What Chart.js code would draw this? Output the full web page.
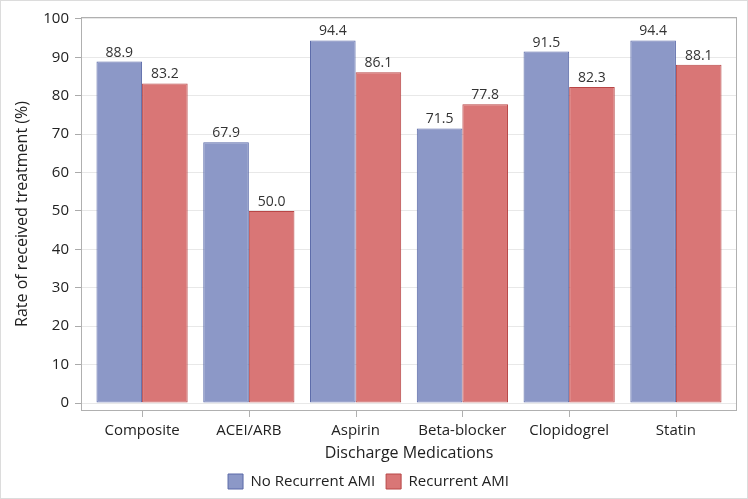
<!DOCTYPE html>
<html>
<head>
<meta charset="utf-8">
<script src="https://cdn.jsdelivr.net/npm/chart.js@4"></script>
<style>
  html, body { margin: 0; padding: 0; background: #fff; }
  #wrap { width: 748px; height: 499px; position: relative; }
</style>
</head>
<body>
<div id="wrap"><canvas id="medChart"></canvas></div>
<script>
const categories = ['Composite', 'ACEI/ARB', 'Aspirin', 'Beta-blocker', 'Clopidogrel', 'Statin'];
const noRecurrent = [88.9, 67.9, 94.4, 71.5, 91.5, 94.4];
const recurrent = [83.2, 50.0, 86.1, 77.8, 82.3, 88.1];
const yTicks = [0, 10, 20, 30, 40, 50, 60, 70, 80, 90, 100];

const FONT = "'Open Sans', sans-serif";
const TEXT = '#222';

/* page frame, plot frame and x tick marks */
const framePlugin = {
  id: 'frame',
  beforeDraw(chart) {
    const { ctx, width, height } = chart;
    ctx.save();
    ctx.fillStyle = '#fff';
    ctx.fillRect(0, 0, width, height);
    ctx.strokeStyle = '#dcdcdc';
    ctx.lineWidth = 1;
    ctx.strokeRect(0.5, 0.5, width - 1, height - 1);
    ctx.restore();
  },
  afterDraw(chart) {
    const { ctx, chartArea: a } = chart;
    const xScale = chart.scales.x;
    ctx.save();
    ctx.strokeStyle = '#b0b0b0';
    ctx.lineWidth = 1;
    ctx.strokeRect(Math.round(a.left) + 0.5, Math.round(a.top) + 0.5,
      Math.round(a.right - a.left) - 1, Math.round(a.bottom - a.top) - 1);
    // category tick marks under the plot frame
    ctx.beginPath();
    categories.forEach((c, i) => {
      const px = Math.round(xScale.getPixelForValue(i)) + 0.5;
      ctx.moveTo(px, Math.round(a.bottom));
      ctx.lineTo(px, Math.round(a.bottom) + 6);
    });
    ctx.stroke();
    ctx.restore();
  },
};

/* value labels above bars */
const valueLabels = {
  id: 'valueLabels',
  afterDatasetsDraw(chart) {
    const { ctx } = chart;
    ctx.save();
    ctx.font = `14px ${FONT}`;
    ctx.fillStyle = '#333';
    ctx.textAlign = 'center';
    ctx.textBaseline = 'alphabetic';
    chart.data.datasets.forEach((ds, di) => {
      chart.getDatasetMeta(di).data.forEach((bar, i) => {
        ctx.fillText(ds.data[i].y.toFixed(1), bar.x, bar.y - 5);
      });
    });
    ctx.restore();
  },
};

new Chart(document.getElementById('medChart'), {
  type: 'bar',
  data: {
    datasets: [
      {
        label: 'No Recurrent AMI',
        data: noRecurrent.map((v, i) => ({ x: i, y: v })),
        backgroundColor: '#8c98c7',
        borderColor: '#5a69a8',
        borderWidth: 1,
        borderSkipped: false,
      },
      {
        label: 'Recurrent AMI',
        data: recurrent.map((v, i) => ({ x: i, y: v })),
        backgroundColor: '#d97676',
        borderColor: '#b84646',
        borderWidth: 1,
        borderSkipped: false,
      },
    ],
  },
  options: {
    responsive: true,
    maintainAspectRatio: false,
    animation: false,
    categoryPercentage: 0.854,
    barPercentage: 1,
    layout: { padding: { top: 17, right: 11, left: 0, bottom: 0 } },
    plugins: {
      legend: {
        position: 'bottom',
        labels: {
          color: TEXT,
          font: { family: FONT, size: 15 },
          boxWidth: 15,
          boxHeight: 15,
          padding: 11,
        },
      },
      tooltip: { enabled: false },
    },
    scales: {
      x: {
        type: 'linear',
        offset: false,
        min: -0.572,
        max: 5.572,
        afterBuildTicks: (s) => { s.ticks = categories.map((c, i) => ({ value: i })); },
        afterFit: (s) => { s.height = 52; },
        grid: { display: false },
        border: { display: false },
        ticks: {
          color: TEXT,
          font: { family: FONT, size: 15 },
          padding: 3,
          maxRotation: 0,
          autoSkip: false,
          callback: (v) => categories[v],
        },
        title: {
          display: true,
          text: 'Discharge Medications',
          color: TEXT,
          font: { family: FONT, size: 16 },
          padding: { top: 2, bottom: 0 },
        },
      },
      y: {
        min: -2.08,
        max: 100.5,
        afterBuildTicks: (s) => { s.ticks = yTicks.map((v) => ({ value: v })); },
        afterFit: (s) => { s.width = 81; },
        grid: { color: '#e8e8e8', tickLength: 6, tickColor: '#aaa' },
        border: { display: false },
        ticks: {
          color: TEXT,
          font: { family: FONT, size: 15 },
          padding: 6,
        },
        title: {
          display: true,
          text: 'Rate of received treatment (%)',
          color: TEXT,
          font: { family: FONT, size: 16 },
          padding: { top: 13, bottom: 0 },
        },
      },
    },
  },
  plugins: [framePlugin, valueLabels],
});
</script>
</body>
</html>
